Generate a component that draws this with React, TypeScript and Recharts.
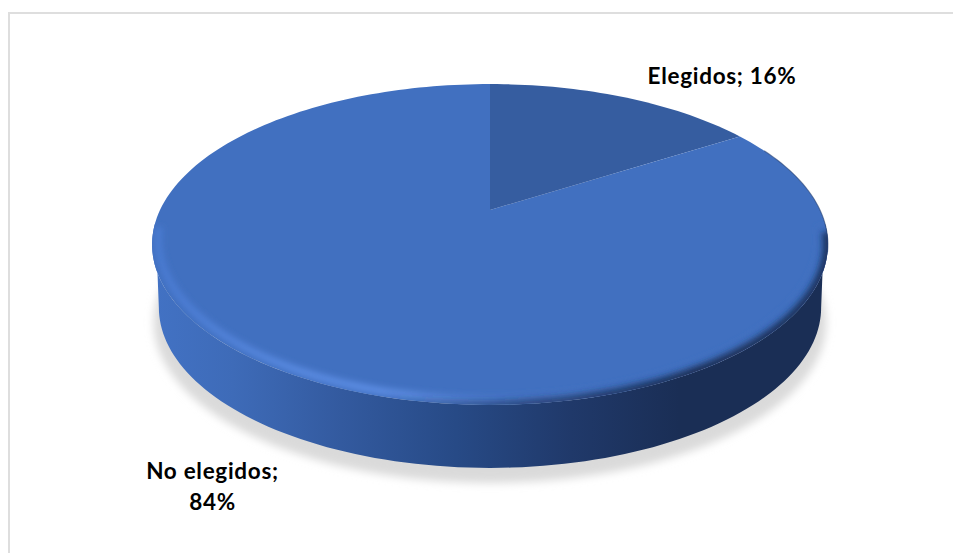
import React from "react";
import { PieChart, Pie } from "recharts";

const CATEGORIES = ["Elegidos", "No elegidos"];
const SHARES = [16, 84];
const FILLS = ["#365da0", "#4170c0"];

const rows = CATEGORIES.map((name, i) => ({ name, value: SHARES[i], fill: FILLS[i] }));

const WIDTH = 953;
const HEIGHT = 553;
const CX = 490;
const CY = 210;
const RADIUS = 330;
// Tilted-disc camera: vertical squash, foreshortening strength, wall height.
const SQUASH = 0.4636;
const PERSPECTIVE = 0.215;
const WALL = 63;
const WALL_TAPER = 0.98;

const RAD = Math.PI / 180;

function project(cx: number, cy: number, r: number, deg: number, scale = 1) {
  const x = Math.cos(deg * RAD);
  const y = Math.sin(deg * RAD);
  const d = 1 + PERSPECTIVE * y;
  return { x: cx + (scale * r * x) / d, y: cy - (r * SQUASH * y) / d };
}

function arc(cx: number, cy: number, r: number, from: number, to: number, scale = 1, dy = 0) {
  const steps = Math.max(2, Math.ceil(Math.abs(to - from) / 1.5));
  const pts: string[] = [];
  for (let i = 0; i <= steps; i++) {
    const p = project(cx, cy, r, from + ((to - from) * i) / steps, scale);
    pts.push(`${p.x.toFixed(2)} ${(p.y + dy).toFixed(2)}`);
  }
  return pts;
}

const poly = (pts: string[], close = false) => `M${pts.join("L")}${close ? "Z" : ""}`;

// The rim meets the wall where the projected ellipse is widest.
const LEFT_RIM = 180 + 12.4;
const RIGHT_RIM = 360 - 12.4;

// The first sector is painted first, so the cast shadow and the wall sit under both faces.
function DiscBody({ cx, cy, r }: { cx: number; cy: number; r: number }) {
  const wall = poly(
    [
      ...arc(cx, cy, r, LEFT_RIM - 8, RIGHT_RIM + 8),
      ...arc(cx, cy, r, RIGHT_RIM, LEFT_RIM, WALL_TAPER, WALL),
    ],
    true,
  );
  const shadow = poly(arc(cx, cy, r, 0, 360, 0.995, WALL + 15), true);
  return (
    <g>
      <defs>
        <linearGradient id="wallShade" x1="0" x2="1" y1="0" y2="0">
          <stop offset="0" stopColor="#4272c4" />
          <stop offset="0.12" stopColor="#3e6bb8" />
          <stop offset="0.28" stopColor="#335a9f" />
          <stop offset="0.45" stopColor="#274a86" />
          <stop offset="0.62" stopColor="#20396a" />
          <stop offset="0.78" stopColor="#1a2e55" />
          <stop offset="1" stopColor="#1a2e55" />
        </linearGradient>
        <filter id="softShadow" x="-5%" y="-10%" width="110%" height="120%">
          <feGaussianBlur stdDeviation="4.5" />
        </filter>
      </defs>
      <path d={shadow} fill="#dadada" filter="url(#softShadow)" />
      <path d={wall} fill="url(#wallShade)" />
    </g>
  );
}

function DiscBevel({ cx, cy, r }: { cx: number; cy: number; r: number }) {
  const wholeFace = poly(arc(cx, cy, r, 0, 360), true);
  const lowerRim = poly(arc(cx, cy, r, 188, 352, 0.982, -5));
  const rimShadow = poly(arc(cx, cy, r, 255, 352, 1, 0));
  const outerEdge = poly(arc(cx, cy, r, -15, 25));
  return (
    <g>
      <defs>
        <linearGradient id="rimShade" x1="0" x2="1" y1="0" y2="0">
          <stop offset="0" stopColor="#4a7bd2" />
          <stop offset="0.2" stopColor="#5a8be2" />
          <stop offset="0.38" stopColor="#5f90e6" />
          <stop offset="0.55" stopColor="#4a78c9" />
          <stop offset="0.7" stopColor="#4170c0" />
          <stop offset="1" stopColor="#4170c0" />
        </linearGradient>
        <linearGradient id="rimDark" x1="0" x2="1" y1="0" y2="0">
          <stop offset="0" stopColor="#1a2e55" stopOpacity="0" />
          <stop offset="0.3" stopColor="#1a2e55" stopOpacity="0.55" />
          <stop offset="0.7" stopColor="#1a2e55" stopOpacity="1" />
          <stop offset="1" stopColor="#1a2e55" stopOpacity="0.9" />
        </linearGradient>
        <filter id="softRim" x="-5%" y="-10%" width="110%" height="120%">
          <feGaussianBlur stdDeviation="3" />
        </filter>
        <clipPath id="faceClip">
          <path d={wholeFace} />
        </clipPath>
      </defs>
      <g clipPath="url(#faceClip)">
        <path d={lowerRim} fill="none" stroke="url(#rimShade)" strokeWidth={7} filter="url(#softRim)" />
        <path d={rimShadow} fill="none" stroke="url(#rimDark)" strokeWidth={10} filter="url(#softRim)" />
      </g>
      <path d={outerEdge} fill="none" stroke="#24406f" strokeWidth={1.1} opacity={0.6} />
    </g>
  );
}

function DiscSector(props: any) {
  const { cx, cy, outerRadius, startAngle, endAngle, fill, name } = props;
  const top = poly([`${cx} ${cy}`, ...arc(cx, cy, outerRadius, startAngle, endAngle)], true);
  const last = name === CATEGORIES[CATEGORIES.length - 1];
  return (
    <g>
      {name === CATEGORIES[0] && <DiscBody cx={cx} cy={cy} r={outerRadius} />}
      <path d={top} fill={fill} />
      {last && <DiscBevel cx={cx} cy={cy} r={outerRadius} />}
    </g>
  );
}

const LABEL_LINES: Record<string, { lines: string[]; x: number; y: number }> = {
  Elegidos: { lines: ["Elegidos; 16%"], x: 722, y: 84 },
  "No elegidos": { lines: ["No elegidos;", "84%"], x: 212.5, y: 479 },
};

function SliceLabel(props: any) {
  const spot = LABEL_LINES[props.name];
  return (
    <text
      x={spot.x}
      y={spot.y}
      textAnchor="middle"
      fontFamily="Lato, sans-serif"
      fontWeight={700}
      fontSize={22.5}
      letterSpacing={0.7}
      fill="#000000"
    >
      {spot.lines.map((line, i) => (
        <tspan key={line} x={spot.x} dy={i === 0 ? 0 : 31}>
          {line}
        </tspan>
      ))}
    </text>
  );
}

export default function App() {
  return (
    <div style={{ position: "absolute", left: 0, top: 0, width: WIDTH, height: HEIGHT, overflow: "hidden", background: "#fff" }}>
      <div style={{ position: "absolute", left: 8, top: 12, right: 0, bottom: 0, borderLeft: "2px solid #dedede", borderTop: "2px solid #dedede" }} />
      <div style={{ position: "absolute", left: 0, top: 0 }}>
        <PieChart width={WIDTH} height={HEIGHT} margin={{ top: 0, right: 0, bottom: 0, left: 0 }}>
          <Pie
            data={rows}
            dataKey="value"
            nameKey="name"
            cx={CX}
            cy={CY}
            outerRadius={RADIUS}
            innerRadius={0}
            startAngle={90}
            endAngle={-270}
            stroke="none"
            shape={DiscSector}
            label={SliceLabel}
            labelLine={false}
            isAnimationActive={false}
          />
        </PieChart>
      </div>
    </div>
  );
}
